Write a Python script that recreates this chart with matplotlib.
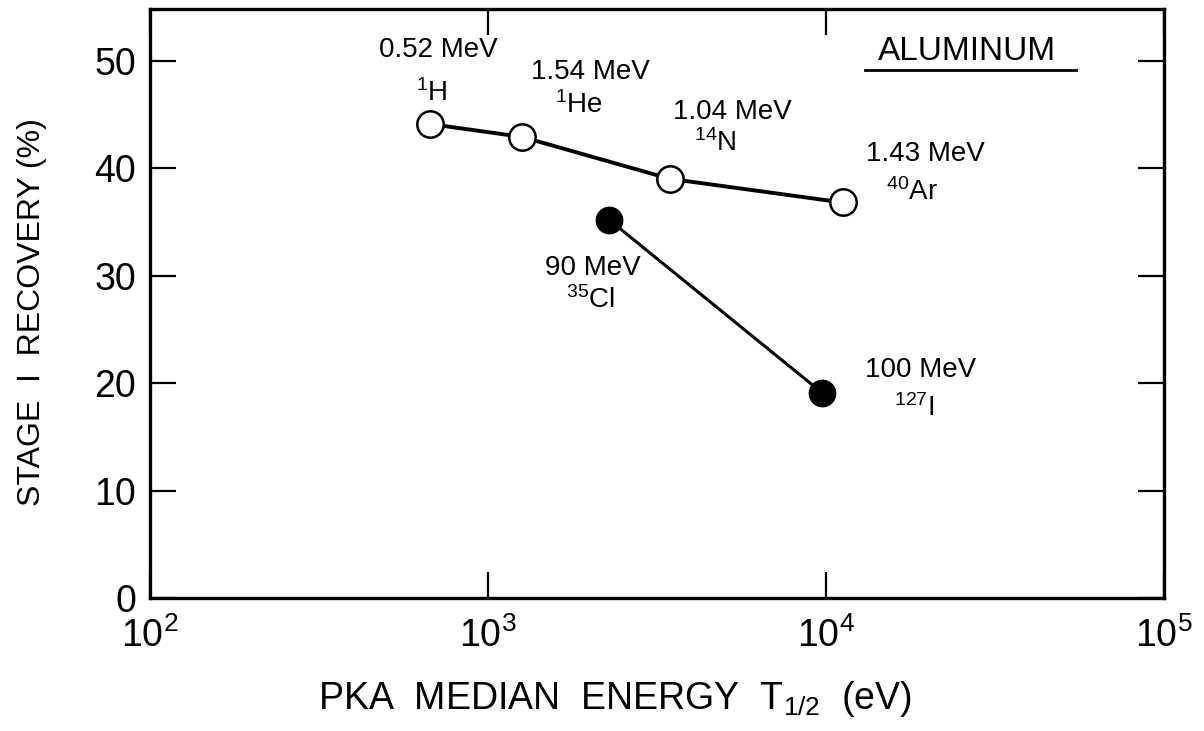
import numpy as np
import matplotlib
matplotlib.use("Agg")
import matplotlib.pyplot as plt

# Stage I recovery in aluminium vs PKA median energy
light_ions = ["0.52 MeV", "1.54 MeV", "1.04 MeV", "1.43 MeV"]
light_iso = [r"$^{1}$H", r"$^{1}$He", r"$^{14}$N", r"$^{40}$Ar"]
light_t12 = [673, 1261, 3450, 11200]
light_rec = [44.1, 42.9, 39.0, 36.8]

heavy_ions = ["90 MeV", "100 MeV"]
heavy_iso = [r"$^{35}$Cl", r"$^{127}$I"]
heavy_t12 = [2280, 9730]
heavy_rec = [35.2, 19.1]

yticks = [0, 10, 20, 30, 40, 50]
xticks = [1e2, 1e3, 1e4, 1e5]
xticklabels = [r"10$^{2}$", r"10$^{3}$", r"10$^{4}$", r"10$^{5}$"]

# label offsets in pixels from each point: (energy text, isotope text)
light_off = [((8, 74), (2, 31)), ((68, 65), (57, 32)),
             ((63, 67), (45, 36)), ((83, 48), (69, 10))]
heavy_off = [((-16, -48), (-18, -80)), ((99, 23), (92, -15))]

plt.rcParams['font.family'] = ['Liberation Sans', 'DejaVu Sans']
plt.rcParams['mathtext.fontset'] = 'custom'
plt.rcParams['mathtext.rm'] = 'Liberation Sans'
plt.rcParams['mathtext.it'] = 'Liberation Sans'

fig = plt.figure(figsize=(12.04, 7.31), dpi=100)
ax = fig.add_axes([150 / 1204, 133 / 731, 1014 / 1204, 589 / 731])

ax.plot(light_t12, light_rec, '-', color='black', lw=2.8, zorder=2)
ax.plot(light_t12, light_rec, 'o', ms=19, mfc='white', mec='black', mew=1.8, zorder=3)
ax.plot(heavy_t12, heavy_rec, '-', color='black', lw=2.2, zorder=2)
ax.plot(heavy_t12, heavy_rec, 'o', ms=19, mfc='black', mec='black', zorder=3)

for x, y, e, iso, (o1, o2) in zip(light_t12, light_rec, light_ions, light_iso, light_off):
    ax.annotate(e, (x, y), xytext=o1, textcoords='offset pixels',
                ha='center', va='center', fontsize=20)
    ax.annotate(iso, (x, y), xytext=o2, textcoords='offset pixels',
                ha='center', va='center', fontsize=20)
for x, y, e, iso, (o1, o2) in zip(heavy_t12, heavy_rec, heavy_ions, heavy_iso, heavy_off):
    ax.annotate(e, (x, y), xytext=o1, textcoords='offset pixels',
                ha='center', va='center', fontsize=20)
    ax.annotate(iso, (x, y), xytext=o2, textcoords='offset pixels',
                ha='center', va='center', fontsize=20)

ax.text(0.806, 0.927, "ALUMINUM", transform=ax.transAxes, ha='center',
        va='center', fontsize=24)
ax.plot([0.705, 0.913], [0.896, 0.896], transform=ax.transAxes,
        color='black', lw=2)

ax.set_xscale('log')
ax.set_xlim(1e2, 1e5)
ax.set_ylim(0, 54.8)
ax.set_xticks(xticks)
ax.set_xticklabels(xticklabels)
ax.xaxis.set_minor_locator(matplotlib.ticker.NullLocator())
ax.set_yticks(yticks)
ax.tick_params(axis='both', direction='in', length=19, width=1.6,
               top=True, right=True, labelsize=27, pad=10)
ax.tick_params(axis='x', pad=14)
for s in ax.spines.values():
    s.set_linewidth(2.4)

ax.set_xlabel(r"PKA  MEDIAN  ENERGY  T$_{1/2}$  (eV)", fontsize=27)
ax.set_ylabel("STAGE  I  RECOVERY (%)", fontsize=23)
ax.xaxis.set_label_coords(0.459, -0.137)
ax.yaxis.set_label_coords(-0.102, 0.486)

fig.savefig("out.png", dpi=100)
